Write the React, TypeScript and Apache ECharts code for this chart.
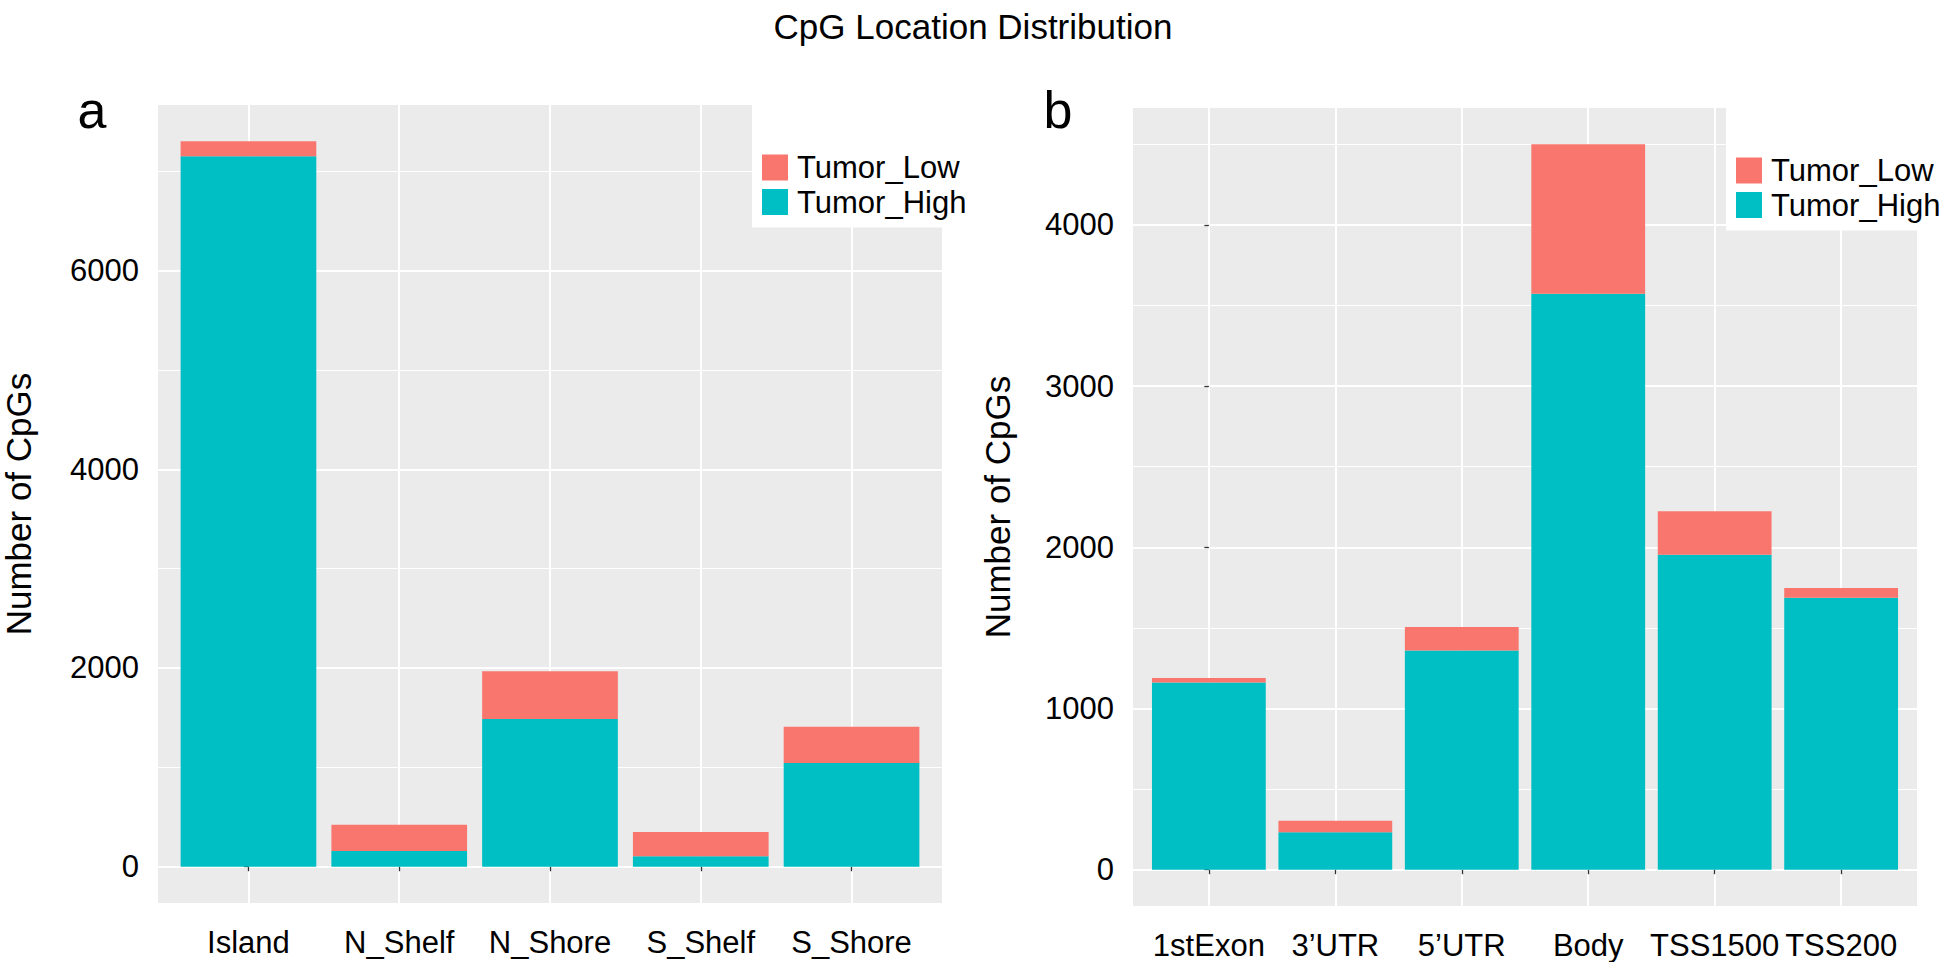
import React, { useEffect, useRef } from 'react';
import * as echarts from 'echarts';

const FONT = '"Liberation Sans", Arial, Helvetica, sans-serif';

// ---- data ----
const categoriesA = ['Island', 'N_Shelf', 'N_Shore', 'S_Shelf', 'S_Shore'];
const tumorHighA = [7150, 158, 1487, 105, 1044];
const tumorLowA = [151, 265, 480, 244, 365];
const majorTicksA = [0, 2000, 4000, 6000];
const minorTicksA = [1000, 3000, 5000, 7000];

const categoriesB = ['1stExon', '3’UTR', '5’UTR', 'Body', 'TSS1500', 'TSS200'];
const tumorHighB = [1161, 233, 1360, 3573, 1954, 1687];
const tumorLowB = [29, 71, 145, 927, 269, 61];
const majorTicksB = [0, 1000, 2000, 3000, 4000];
const minorTicksB = [500, 1500, 2500, 3500, 4500];

const seriesNames = ['Tumor_Low', 'Tumor_High'];
const COLOR_LOW = '#F8766D';
const COLOR_HIGH = '#00BFC4';

// ---- layout ----
const layoutA = { left: 158, top: 105, width: 784, height: 798 };
const layoutB = { left: 1133, top: 108, width: 784, height: 798 };

function makePanel(
  p: number,
  L: { left: number; top: number; width: number; height: number },
  cats: string[],
  high: number[],
  low: number[],
  ticks: number[],
  minor: number[]
) {
  const n = cats.length;
  const totals = high.map((h, i) => h + low[i]);
  const tmax = Math.max(...totals);
  const ymin = -0.05 * tmax;
  const ymax = 1.05 * tmax;
  const band = L.width / (n + 0.2);
  const gBg = p * 2;
  const gData = p * 2 + 1;
  const xBase = p * 2;
  const yBase = p * 3;
  const labelStyle = { color: '#000', fontSize: 31, fontFamily: FONT };
  const tickLine = { color: '#333', width: 1.3 };

  const grids = [
    { left: L.left, top: L.top, width: L.width, height: L.height, show: true, backgroundColor: '#EBEBEB', borderWidth: 0, containLabel: false },
    { left: L.left + 0.1 * band, top: L.top, width: band * n, height: L.height, show: false, containLabel: false },
  ];
  const xAxes = [
    {
      type: 'value', gridIndex: gBg, min: -0.6, max: n - 1 + 0.6,
      axisLine: { show: false },
      axisLabel: { show: false, customValues: cats.map((_, i) => i) },
      axisTick: { show: false, customValues: cats.map((_, i) => i) },
      splitLine: { show: true, lineStyle: { color: '#FFFFFF', width: 2 } },
    },
    {
      type: 'category', gridIndex: gData, data: cats,
      axisLine: { show: false },
      axisTick: { show: true, alignWithLabel: true, length: 4.5, lineStyle: tickLine },
      axisLabel: { ...labelStyle, margin: 24, interval: 0 },
      splitLine: { show: false },
    },
  ];
  const yAxes = [
    {
      type: 'value', gridIndex: gBg, min: ymin, max: ymax, position: 'left',
      axisLine: { show: false },
      axisTick: { show: true, length: 4.5, lineStyle: tickLine, customValues: ticks },
      axisLabel: { ...labelStyle, margin: 19, customValues: ticks, formatter: (v: number) => String(Math.round(v)) },
      splitLine: { show: true, lineStyle: { color: '#FFFFFF', width: 2 } },
    },
    {
      type: 'value', gridIndex: gBg, min: ymin, max: ymax, position: 'left',
      axisLine: { show: false },
      axisTick: { show: false, customValues: minor },
      axisLabel: { show: false, customValues: minor },
      splitLine: { show: true, lineStyle: { color: '#FFFFFF', width: 1.2 } },
    },
    { type: 'value', gridIndex: gData, min: ymin, max: ymax, show: false, splitLine: { show: false } },
  ];
  const series = [
    {
      name: 'Tumor_High', type: 'bar', xAxisIndex: xBase + 1, yAxisIndex: yBase + 2,
      stack: 'panel' + p, data: high, barCategoryGap: '10%', silent: true,
      itemStyle: { color: COLOR_HIGH },
    },
    {
      name: 'Tumor_Low', type: 'bar', xAxisIndex: xBase + 1, yAxisIndex: yBase + 2,
      stack: 'panel' + p, data: low, barCategoryGap: '10%', silent: true,
      itemStyle: { color: COLOR_LOW },
    },
  ];
  return { grids, xAxes, yAxes, series };
}

function makeLegend(left: number, top: number) {
  return {
    orient: 'vertical', left, top, data: seriesNames, icon: 'rect',
    itemWidth: 26, itemHeight: 26, itemGap: 3.5,
    backgroundColor: '#FFFFFF', borderWidth: 0,
    padding: [54, 10, 10, 10], selectedMode: false,
    textStyle: { fontSize: 31, fontFamily: FONT, color: '#000', lineHeight: 26, padding: [0, 0, 0, 4] },
  };
}

export default function App() {
  const ref = useRef<HTMLDivElement>(null);
  useEffect(() => {
    if (!ref.current) return;
    const chart = echarts.init(ref.current, undefined, { renderer: 'svg' });
    const a = makePanel(0, layoutA, categoriesA, tumorHighA, tumorLowA, majorTicksA, minorTicksA);
    const b = makePanel(1, layoutB, categoriesB, tumorHighB, tumorLowB, majorTicksB, minorTicksB);
    const axisTitle = { text: 'Number of CpGs', fontSize: 35, fontFamily: FONT, fill: '#000', align: 'center', verticalAlign: 'middle' };
    chart.setOption({
      animation: false,
      backgroundColor: '#FFFFFF',
      title: {
        text: 'CpG Location Distribution', left: 'center', top: 4,
        textStyle: { fontSize: 35, fontWeight: 'normal', color: '#000', fontFamily: FONT },
      },
      legend: [makeLegend(752, 98), makeLegend(1726, 101)],
      grid: [...a.grids, ...b.grids],
      xAxis: [...a.xAxes, ...b.xAxes],
      yAxis: [...a.yAxes, ...b.yAxes],
      series: [...a.series, ...b.series],
      graphic: [
        { type: 'text', x: 92, y: 110, style: { text: 'a', fontSize: 52, fontFamily: FONT, fill: '#000', align: 'center', verticalAlign: 'middle' } },
        { type: 'text', x: 1058, y: 110, style: { text: 'b', fontSize: 52, fontFamily: FONT, fill: '#000', align: 'center', verticalAlign: 'middle' } },
        { type: 'text', x: 18, y: 504, rotation: Math.PI / 2, style: { ...axisTitle } },
        { type: 'text', x: 997, y: 507, rotation: Math.PI / 2, style: { ...axisTitle } },
      ],
    });
    return () => chart.dispose();
  }, []);
  return (
    <div
      ref={ref}
      style={{ position: 'absolute', left: 0, top: 0, width: 1946, height: 962, background: '#fff' }}
    />
  );
}
